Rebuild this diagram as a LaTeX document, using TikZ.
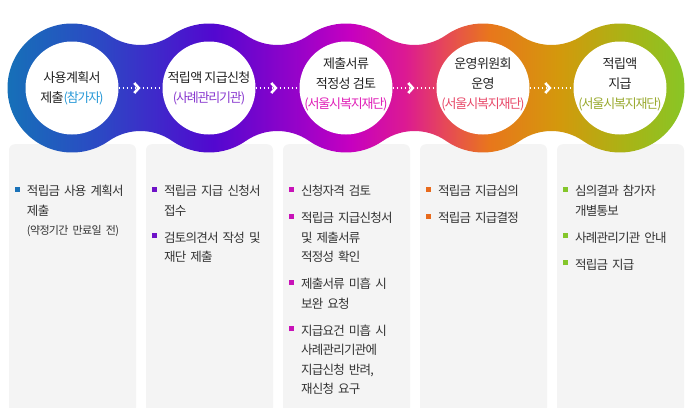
\documentclass[tikz,border=0pt]{standalone}
\usepackage{fontspec}
\setmainfont{Noto Sans CJK KR}
\newfontfamily\krlabel{Noto Sans CJK KR}[LetterSpace=-5]
\newfontfamily\krnarrow{Noto Sans CJK KR}[LetterSpace=-9]
\newfontfamily\krbody{Noto Sans CJK KR}[LetterSpace=-6]
\usepackage{tikz}
\usetikzlibrary{arrows.meta, decorations.markings}
\usepackage{xcolor}
\definecolor{g0}{HTML}{1670B8}
\definecolor{g1}{HTML}{2C48C4}
\definecolor{g2}{HTML}{5208D0}
\definecolor{g3}{HTML}{9C02C8}
\definecolor{g4}{HTML}{C600C0}
\definecolor{g5}{HTML}{DC1A92}
\definecolor{g6}{HTML}{E64858}
\definecolor{g7}{HTML}{E8761C}
\definecolor{g8}{HTML}{D4980C}
\definecolor{g9}{HTML}{A8B416}
\definecolor{g10}{HTML}{84C828}
\definecolor{ink}{HTML}{222222}
\definecolor{body}{HTML}{333333}
\definecolor{panelgray}{HTML}{F4F4F4}
\definecolor{subA}{HTML}{2A9AD8}
\definecolor{subB}{HTML}{8A3AD0}
\definecolor{subC}{HTML}{E020B8}
\definecolor{subD}{HTML}{E84A6A}
\definecolor{subE}{HTML}{9AAA30}
\definecolor{bulA}{HTML}{1A72B8}
\definecolor{bulB}{HTML}{6E12C8}
\definecolor{bulC}{HTML}{C812B8}
\definecolor{bulD}{HTML}{E86A1C}
\definecolor{bulE}{HTML}{84C62A}
\pgfdeclarehorizontalshading{chain}{100bp}{color(0bp)=(g0); color(25bp)=(g0);
  color(31.8bp)=(g1); color(40bp)=(g2); color(46.6bp)=(g3); color(50bp)=(g4);
  color(54bp)=(g5); color(56.9bp)=(g6); color(60.1bp)=(g7); color(65.1bp)=(g8);
  color(70.2bp)=(g9); color(75bp)=(g10); color(100bp)=(g10)}
\newcommand{\bitem}[2]{\par\hangindent=12pt\hangafter=1\noindent
  \makebox[12pt][l]{\textcolor{#1}{\rule[3.8pt]{5pt}{5pt}}}#2\par\vspace{7.5pt}}
\newcommand{\who}[2]{\textcolor{#1}{\krnarrow #2}}
\newcommand{\Rout}{64.5}
\newcommand{\rfil}{55.37}
\newcommand{\ang}{55.15}

\begin{document}
\begin{tikzpicture}[x=1pt, y=1pt,
  hole/.style={circle, fill=white, minimum size=93pt, inner sep=0pt},
  lbl/.style={font=\krlabel\fontsize{13pt}{20pt}\selectfont, text=ink,
              align=center, inner sep=0pt},
  panel/.style={fill=panelgray, rounded corners=6pt, minimum width=127pt,
                minimum height=300pt, anchor=north, inner sep=0pt},
  items/.style={font=\krbody\fontsize{12.5pt}{19.5pt}\selectfont, text=body,
                text width=118pt, align=left, anchor=north west, inner sep=0pt},
  link/.style={white, line width=1.4pt, dash pattern=on 1.4pt off 2.6pt,
               postaction={decorate}, decoration={markings,
               mark=at position 0.5 with {\arrow[solid]{Straight Barb[length=4.5pt, width=10pt, line width=2.6pt]}}}}]
\path[use as bounding box, fill=white] (0,-319) rectangle (690,88);

% grey panels
\foreach \i in {1,...,5}
  \node[panel] (b\i) at ({72.5+137*(\i-1)},-56) {};

% gradient chain of rings
\shade[shading=chain] (7.5,0)
  arc[start angle=180, end angle=\ang, radius=\Rout pt]
  \foreach \i in {1,2,3}{
    arc[start angle=180+\ang, end angle=360-\ang, radius=\rfil pt]
    arc[start angle=180-\ang, end angle=\ang, radius=\Rout pt]}
  arc[start angle=180+\ang, end angle=360-\ang, radius=\rfil pt]
  arc[start angle=180-\ang, end angle=-180+\ang, radius=\Rout pt]
  \foreach \i in {1,2,3}{
    arc[start angle=\ang, end angle=180-\ang, radius=\rfil pt]
    arc[start angle=-\ang, end angle=-180+\ang, radius=\Rout pt]}
  arc[start angle=\ang, end angle=180-\ang, radius=\rfil pt]
  arc[start angle=-\ang, end angle=-180, radius=\Rout pt] -- cycle;

\foreach \i in {1,...,5}
  \node[hole] (c\i) at ({72+137*(\i-1)},0) {};

\node[lbl] (t1) at (c1) {사용계획서\\제출\who{subA}{(참가자)}};
\node[lbl] (t2) at (c2) {적립액 지급신청\\\who{subB}{(사례관리기관)}};
\node[lbl, yshift=4pt] (t3) at (c3) {제출서류\\적정성 검토\\\who{subC}{(서울시복지재단)}};
\node[lbl, yshift=4pt] (t4) at (c4) {운영위원회\\운영\\\who{subD}{(서울시복지재단)}};
\node[lbl, yshift=4pt] (t5) at (c5) {적립액\\지급\\\who{subE}{(서울시복지재단)}};

\foreach \i/\j in {1/2, 2/3, 3/4, 4/5}
  \draw[link] (c\i) -- (c\j);

% step details
\node[items] (l1) at ([xshift=6pt, yshift=-32pt]b1.north west)
  {\bitem{bulA}{적립금 사용 계획서\newline 제출\newline
   {\fontsize{11pt}{19.5pt}\selectfont (약정기간 만료일 전)}}};
\node[items] (l2) at ([xshift=6pt, yshift=-32pt]b2.north west)
  {\bitem{bulB}{적립금 지급 신청서\newline 접수}%
   \bitem{bulB}{검토의견서 작성 및\newline 재단 제출}};
\node[items] (l3) at ([xshift=6pt, yshift=-32pt]b3.north west)
  {\bitem{bulC}{신청자격 검토}%
   \bitem{bulC}{적립금 지급신청서\newline 및 제출서류\newline 적정성 확인}%
   \bitem{bulC}{제출서류 미흡 시\newline 보완 요청}%
   \bitem{bulC}{지급요건 미흡 시\newline 사례관리기관에\newline 지급신청 반려,\newline 재신청 요구}};
\node[items] (l4) at ([xshift=6pt, yshift=-32pt]b4.north west)
  {\bitem{bulD}{적립금 지급심의}%
   \bitem{bulD}{적립금 지급결정}};
\node[items] (l5) at ([xshift=6pt, yshift=-32pt]b5.north west)
  {\bitem{bulE}{심의결과 참가자\newline 개별통보}%
   \bitem{bulE}{사례관리기관 안내}%
   \bitem{bulE}{적립금 지급}};
\end{tikzpicture}
\end{document}
